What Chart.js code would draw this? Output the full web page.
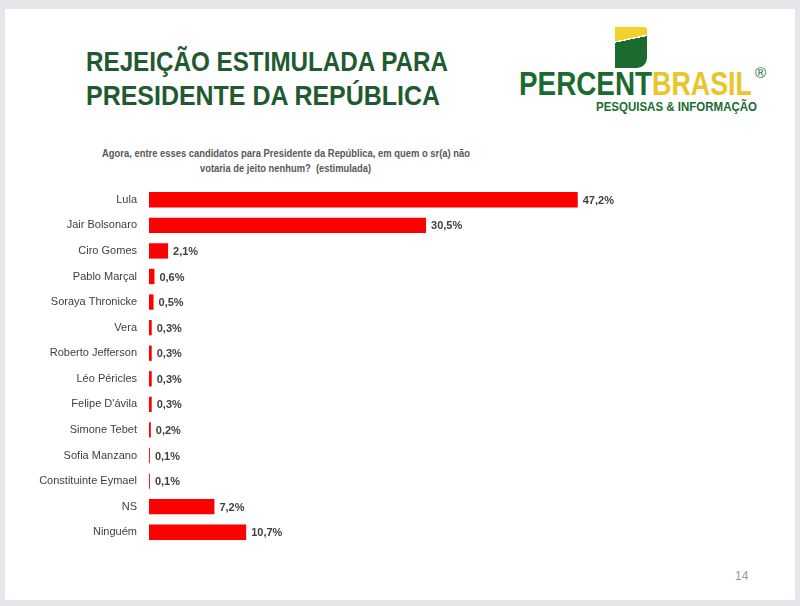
<!DOCTYPE html>
<html>
<head>
<meta charset="utf-8">
<script src="https://cdn.jsdelivr.net/npm/chart.js@4.4.0/dist/chart.umd.min.js"></script>
<style>
    html, body { margin: 0; padding: 0; }
    body { width: 800px; height: 606px; background: #e6e5e9; position: relative; overflow: hidden; font-family: Arial, "Liberation Sans", sans-serif; }
    #slide { position: absolute; left: 5px; top: 9px; width: 790px; height: 591px; background: #fff; }
    .t { position: absolute; white-space: nowrap; display: inline-block; transform-origin: left top; }
    .title { font-family: "Liberation Sans Narrow", "Arial Narrow", Arial, sans-serif; font-weight: bold; font-size: 28px; line-height: 28px; color: #215a30; }
    .sub { font-family: "Liberation Sans Narrow", "Arial Narrow", Arial, sans-serif; font-weight: bold; font-size: 11px; line-height: 11px; color: #595959; }
    .logo { font-family: "Liberation Sans Narrow", "Arial Narrow", Arial, sans-serif; font-weight: bold; font-size: 34px; line-height: 34px; }
    #flag { position: absolute; left: 615px; top: 27px; width: 32px; height: 41px;
            background: linear-gradient(168deg, #f0d22a 0 30%, #fff 30% 33%, #1b6a2f 33%); border-radius: 0 3px 10px 0; }
    #myChart { position: absolute; left: 0; top: 0; }
</style>
</head>
<body>
<div id="slide"></div>

<div class="t title" style="left:86px; top:48px" data-w="362">REJEIÇÃO ESTIMULADA PARA</div>
<div class="t title" style="left:86px; top:82px" data-w="354">PRESIDENTE DA REPÚBLICA</div>

<div id="flag"></div>
<div class="t logo" style="left:519px; top:66px; color:#1b6a30" data-w="133">PERCENT</div>
<div class="t logo" style="left:652px; top:66px; color:#e9c52a" data-w="100">BRASIL</div>
<div class="t" style="left:755px; top:64px; font-size:15px; color:#1b6a30">®</div>
<div class="t logo" style="left:596px; top:101px; font-size:12px; line-height:12px; color:#1b6a30" data-w="161">PESQUISAS &amp; INFORMAÇÃO</div>

<div class="t sub" style="left:102px; top:148px" data-w="368">Agora, entre esses candidatos para Presidente da República, em quem o sr(a) não</div>
<div class="t sub" style="left:200px; top:163px" data-w="171">votaria de jeito nenhum?&nbsp; (estimulada)</div>

<div class="t" style="left:735px; top:569px; font-size:12px; color:#9a9a9a">14</div>

<canvas id="myChart" width="800" height="606"></canvas>

<script>
    var candidatos = ['Lula', 'Jair Bolsonaro', 'Ciro Gomes', 'Pablo Marçal', 'Soraya Thronicke', 'Vera',
        'Roberto Jefferson', 'Léo Péricles', "Felipe D'ávila", 'Simone Tebet', 'Sofia Manzano',
        'Constituinte Eymael', 'NS', 'Ninguém'];
    var rejeicao = [47.2, 30.5, 2.1, 0.6, 0.5, 0.3, 0.3, 0.3, 0.3, 0.2, 0.1, 0.1, 7.2, 10.7];
    var escalaMax = 60;

    // esticar os textos até a largura do slide original
    document.querySelectorAll('[data-w]').forEach(function (el) {
        var w = el.getBoundingClientRect().width;
        el.style.transform = 'scaleX(' + (parseFloat(el.dataset.w) / w) + ')';
    });

    function formatar(v) {
        return v.toFixed(1).replace('.', ',') + '%';
    }

    var rotulos = {
        id: 'rotulos',
        afterDatasetsDraw: function (chart) {
            var ctx = chart.ctx;
            var meta = chart.getDatasetMeta(0);
            ctx.save();
            ctx.font = 'bold 11px Arial, "Liberation Sans", sans-serif';
            ctx.fillStyle = '#404040';
            ctx.textBaseline = 'middle';
            ctx.textAlign = 'left';
            meta.data.forEach(function (bar, i) {
                ctx.fillText(formatar(rejeicao[i]), bar.x + 5, bar.y + 1);
            });
            ctx.restore();
        }
    };

    const ctx = document.getElementById('myChart').getContext('2d');
    var myChart = new Chart(ctx, {
        type: 'bar',
        data: {
            labels: candidatos,
            datasets: [{
                data: rejeicao,
                backgroundColor: '#fe0000',
                borderWidth: 0,
                barPercentage: 0.6,
                categoryPercentage: 1
            }]
        },
        options: {
            indexAxis: 'y',
            responsive: false,
            animation: false,
            layout: {
                padding: { left: 0, right: 106, top: 187, bottom: 61 }
            },
            plugins: {
                legend: { display: false },
                tooltip: { enabled: false }
            },
            scales: {
                x: {
                    display: false,
                    min: 0,
                    max: escalaMax
                },
                y: {
                    grid: { display: false, drawTicks: false },
                    border: { display: false },
                    afterFit: function (scale) { scale.width = 149; },
                    ticks: {
                        padding: 12,
                        color: '#404040',
                        font: { family: 'Arial, "Liberation Sans", sans-serif', size: 11 }
                    }
                }
            }
        },
        plugins: [rotulos]
    });
</script>
</body>
</html>
